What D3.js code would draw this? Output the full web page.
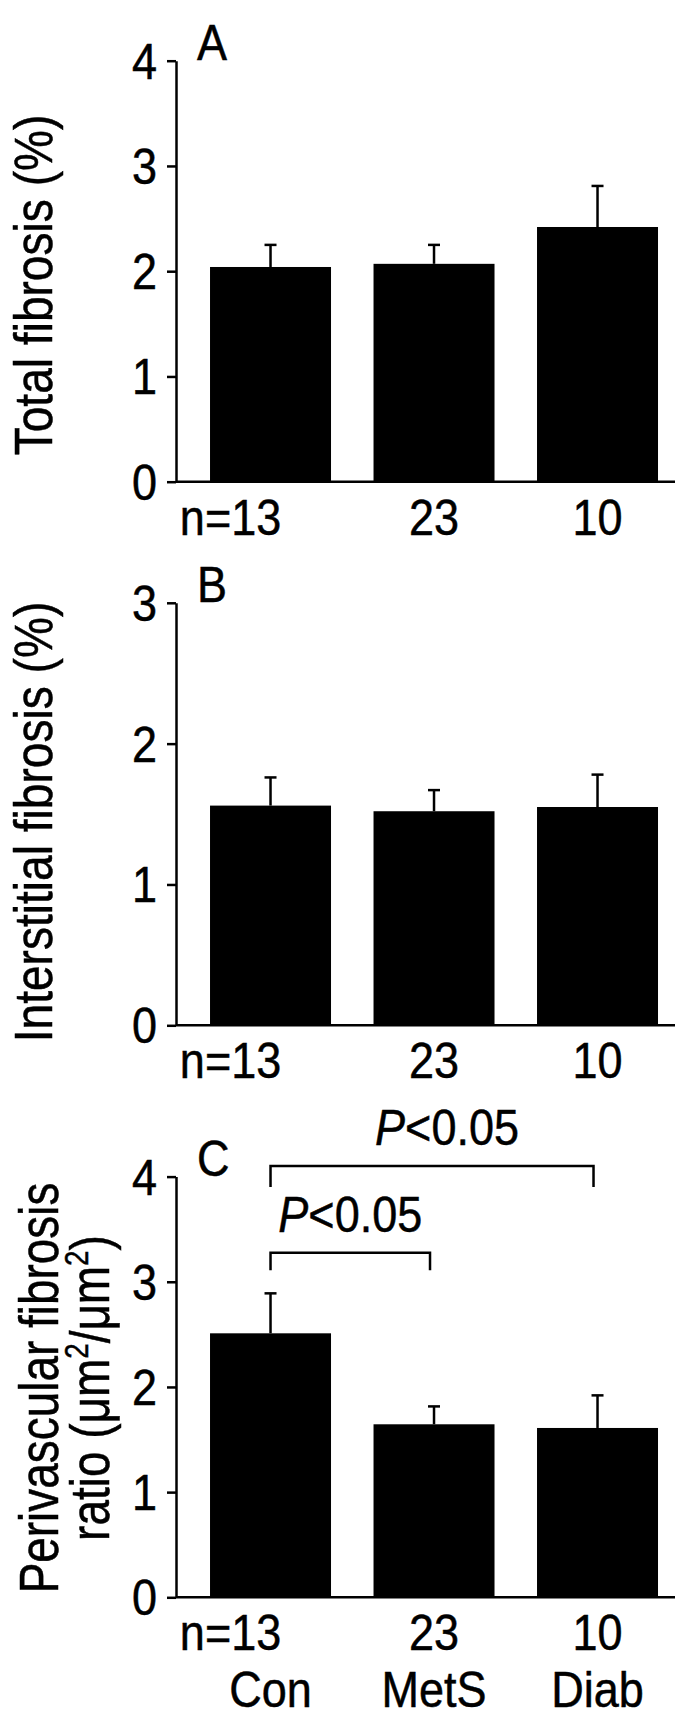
<!DOCTYPE html>
<html>
<head>
<meta charset="utf-8">
<script src="https://cdn.jsdelivr.net/npm/d3@7"></script>
<style>
  html, body { margin: 0; padding: 0; background: #fff; }
  svg { display: block; }
  text { font-family: "Liberation Sans", Arial, Helvetica, sans-serif; fill: #000; }
</style>
</head>
<body>
<svg id="chart" width="685" height="1719"></svg>
<script>
// ---------------- DATA ----------------
const groups = ["Con", "MetS", "Diab"];
const nLabels = ["n=13", "23", "10"];

const totalMean = [2.04, 2.07, 2.42];
const totalErr  = [0.21, 0.18, 0.39];
const totalTicks = [0, 1, 2, 3, 4];

const interMean = [1.56, 1.52, 1.55];
const interErr  = [0.20, 0.15, 0.23];
const interTicks = [0, 1, 2, 3];

const periMean = [2.51, 1.645, 1.61];
const periErr  = [0.38, 0.17, 0.31];
const periTicks = [0, 1, 2, 3, 4];

// significance brackets for panel C
const sigFrom = ["Con", "Con"];
const sigTo   = ["Diab", "MetS"];
const sigLevel = [4.10, 3.275];
const sigDrop  = [3.90, 3.11];
const sigText  = ["P", "P"];
const sigRest  = ["<0.05", "<0.05"];

// ---------------- LAYOUT ----------------
const svg = d3.select("#chart");
const FONT = 50;      // tick / n / letter font size
const SX = 0.9;       // horizontal condensing of glyphs
const STROKE_T = 0.5; // slight text weight
const axisX = 176;
const x = d3.scaleBand().domain(groups).range([axisX, 675])
  .paddingInner(0.26).paddingOuter(0.156).align(0.667);

function ctext(g, px, py, anchor, size, sx) {
  return g.append("text")
    .attr("transform", `translate(${px},${py}) scale(${sx},1)`)
    .attr("text-anchor", anchor)
    .attr("font-size", size)
    .attr("stroke", "#000").attr("stroke-width", STROKE_T);
}

const panels = [
  { letter: "A", mean: totalMean, err: totalErr, ticks: totalTicks, max: 4,
    y0: 481.7, yTop: 60.7, label: ["Total fibrosis (%)"], labelCy: 285, labelX: [52],
    lfont: 53, lsx: 0.87, groupRow: false },
  { letter: "B", mean: interMean, err: interErr, ticks: interTicks, max: 3,
    y0: 1025.3, yTop: 602.8, label: ["Interstitial fibrosis (%)"], labelCy: 822, labelX: [52],
    lfont: 53, lsx: 0.87, groupRow: false },
  { letter: "C", mean: periMean, err: periErr, ticks: periTicks, max: 4,
    y0: 1597.3, yTop: 1176.6, label: ["Perivascular fibrosis", "ratio"], labelCy: 1388, labelX: [58, 109],
    lfont: 56, lsx: 0.82, groupRow: true }
];

panels.forEach(p => {
  const g = svg.append("g");
  const y = d3.scaleLinear().domain([0, p.max]).range([p.y0, p.yTop]);
  const data = groups.map((k, i) => ({ k, v: p.mean[i], e: p.err[i], n: nLabels[i] }));
  const cx = d => x(d.k) + x.bandwidth() / 2;

  // bars
  g.selectAll("rect.bar").data(data).join("rect")
    .attr("class", "bar")
    .attr("x", d => x(d.k))
    .attr("width", x.bandwidth())
    .attr("y", d => y(d.v))
    .attr("height", d => p.y0 - y(d.v))
    .attr("fill", "#000");

  // error bars (upper only)
  g.selectAll("line.eb").data(data).join("line")
    .attr("class", "eb")
    .attr("x1", cx).attr("x2", cx)
    .attr("y1", d => y(d.v)).attr("y2", d => y(d.v + d.e))
    .attr("stroke", "#000").attr("stroke-width", 2.5);
  g.selectAll("line.cap").data(data).join("line")
    .attr("class", "cap")
    .attr("x1", d => cx(d) - 6).attr("x2", d => cx(d) + 6)
    .attr("y1", d => y(d.v + d.e)).attr("y2", d => y(d.v + d.e))
    .attr("stroke", "#000").attr("stroke-width", 2.5);

  // y axis
  const ax = g.append("g")
    .attr("transform", `translate(${axisX},0)`)
    .call(d3.axisLeft(y).tickValues(p.ticks).tickSize(9).tickSizeOuter(0)
      .tickPadding(10).tickFormat(d3.format("d")));
  ax.select(".domain").attr("stroke", "#000").attr("stroke-width", 2.5);
  ax.selectAll(".tick line").attr("stroke", "#000").attr("stroke-width", 2.5);
  ax.selectAll(".tick text").each(function () {
    const el = d3.select(this);
    const xx = +el.attr("x");
    el.attr("x", 0)
      .attr("dy", "0.35em")
      .attr("transform", `translate(${xx},0) scale(${SX},1)`)
      .attr("font-size", FONT)
      .attr("font-family", "'Liberation Sans', Arial, sans-serif")
      .attr("fill", "#000").attr("stroke", "#000").attr("stroke-width", STROKE_T);
  });

  // x axis baseline
  g.append("line")
    .attr("x1", axisX).attr("x2", x.range()[1])
    .attr("y1", p.y0).attr("y2", p.y0)
    .attr("stroke", "#000").attr("stroke-width", 2.5);

  // n labels
  data.forEach((d, i) => {
    ctext(g, cx(d) + (i === 0 ? -40 : 0), p.y0 + 53, "middle", FONT, SX).text(d.n);
  });

  if (p.groupRow) {
    data.forEach(d => {
      ctext(g, cx(d), p.y0 + 110, "middle", FONT, SX).text(d.k);
    });
  }

  // panel letter
  ctext(g, 197, p.yTop - 1, "start", FONT, SX).text(p.letter);

  // y label(s)
  p.label.forEach((lab, li) => {
    const t = g.append("text")
      .attr("transform", `translate(${p.labelX[li]},${p.labelCy}) rotate(-90) scale(${p.lsx},1)`)
      .attr("text-anchor", "middle")
      .attr("font-size", p.lfont)
      .attr("stroke", "#000").attr("stroke-width", STROKE_T);
    if (p.letter === "C" && li === 1) {
      t.append("tspan").text("ratio (μm");
      t.append("tspan").attr("font-size", 34).attr("dy", -21).text("2");
      t.append("tspan").attr("dy", 21).text("/μm");
      t.append("tspan").attr("font-size", 34).attr("dy", -21).text("2");
      t.append("tspan").attr("dy", 21).text(")");
    } else {
      t.text(lab);
    }
  });

  // significance brackets
  if (p.letter === "C") {
    sigFrom.forEach((f, i) => {
      const x1 = x(f) + x.bandwidth() / 2;
      const x2 = x(sigTo[i]) + x.bandwidth() / 2 - 4;
      const yl = y(sigLevel[i]), yd = y(sigDrop[i]);
      g.append("path")
        .attr("d", `M${x1},${yd}V${yl}H${x2}V${yd}`)
        .attr("fill", "none").attr("stroke", "#000").attr("stroke-width", 2.5);
      const t = ctext(g, (x1 + x2) / 2 + (i === 0 ? 15 : 0), yl - 21, "middle", FONT, SX);
      t.append("tspan").attr("font-style", "italic").text(sigText[i]);
      t.append("tspan").text(sigRest[i]);
    });
  }
});
</script>
</body>
</html>
